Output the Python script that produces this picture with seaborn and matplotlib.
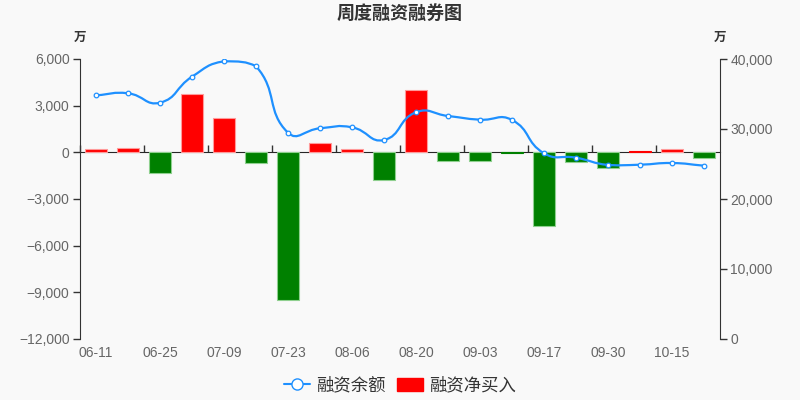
import numpy as np
import pandas as pd
import seaborn as sns
import matplotlib.pyplot as plt
from matplotlib.path import Path
from matplotlib.patches import PathPatch, Patch
from matplotlib.lines import Line2D
from matplotlib.ticker import FuncFormatter, MultipleLocator, NullFormatter

# weekly data (unit: 万)
dates = ['06-11', '06-18', '06-25', '07-02', '07-09', '07-16', '07-23', '07-30', '08-06', '08-13',
         '08-20', '08-27', '09-03', '09-10', '09-17', '09-24', '09-30', '10-08', '10-15', '10-22']
net_buy = [190, 280, -1320, 3740, 2230, -690, -9480, 600, 190, -1810,
           4020, -540, -540, -40, -4740, -650, -1010, 80, 210, -370]
balance = [34810, 35100, 33760, 37470, 39670, 38960, 29470, 30100, 30240, 28430,
           32390, 31860, 31330, 31290, 26530, 25900, 24860, 24900, 25140, 24760]

BG = '#f9f9f9'
BLUE = '#1e90ff'


def smooth_path(xs, ys, sx, sy, smooth=0.5):
    # bezier smoothing like echarts, computed in pixel-like units
    pts = np.column_stack([np.asarray(xs, float) * sx, np.asarray(ys, float) * sy])
    n = len(pts)
    lo, hi = pts.min(axis=0), pts.max(axis=0)
    cps = []
    for i in range(n):
        p = pts[i]
        prev = pts[max(i - 1, 0)]
        nxt = pts[min(i + 1, n - 1)]
        v = (nxt - prev) * smooth
        d0 = np.hypot(*(p - prev))
        d1 = np.hypot(*(p - nxt))
        s = d0 + d1
        if s:
            d0, d1 = d0 / s, d1 / s
        cps.append(np.clip(p - v * d0, lo, hi))
        cps.append(np.clip(p + v * d1, lo, hi))
    verts = [pts[0]]
    codes = [Path.MOVETO]
    for i in range(n - 1):
        verts += [cps[2 * i + 1], cps[2 * i + 2], pts[i + 1]]
        codes += [Path.CURVE4] * 3
    verts = np.array(verts) / [sx, sy]
    return Path(verts, codes)


sns.set_style('white')
plt.rcParams['font.family'] = ['Liberation Sans', 'Noto Sans CJK SC', 'DejaVu Sans']
plt.rcParams['axes.unicode_minus'] = True

df = pd.DataFrame({'date': dates, 'net': net_buy})
df['dir'] = np.where(df['net'] >= 0, 'up', 'down')

fig = plt.figure(figsize=(8, 4), dpi=100, facecolor=BG)
ax = fig.add_axes([0.1, 0.1525, 0.8, 0.70])
ax.set_facecolor(BG)

sns.barplot(data=df, x='date', y='net', hue='dir', order=dates,
            palette={'up': '#ff0000', 'down': '#008000'}, dodge=False,
            width=0.69, legend=False, ax=ax, saturation=1)
for bar in ax.patches:
    if abs(bar.get_height()) < 100:
        bar.set_edgecolor(bar.get_facecolor())
    elif bar.get_height() >= 0:
        bar.set_edgecolor('#ff9a9a')
    else:
        bar.set_edgecolor('#8fd08f')
    bar.set_linewidth(0.8)

ax.set_xlim(-0.5, len(dates) - 0.5)
ax.set_ylim(-12000, 6000)
ax.yaxis.set_major_locator(MultipleLocator(3000))
fmt = FuncFormatter(lambda v, p: f'{int(round(v)):,}'.replace('-', '\u2212'))
ax.yaxis.set_major_formatter(fmt)
ax.set_xticks(range(0, len(dates), 2))
ax.set_xticklabels(dates[::2])
ax.set_xlabel('')
ax.set_ylabel('')
ax.tick_params(axis='x', length=0, pad=5, labelsize=10, labelcolor='#666666')
ax.tick_params(axis='y', length=5, width=1, color='#333333', pad=2.5,
               labelsize=10, labelcolor='#666666', left=True, direction='out')
for s in ['top', 'right', 'bottom']:
    ax.spines[s].set_visible(False)
ax.spines['left'].set_color('#333333')

# category axis line on zero
sec = ax.secondary_xaxis(12000 / 18000)
sec.set_xticks(np.arange(-0.5, len(dates) - 1, 2))
sec.xaxis.set_major_formatter(NullFormatter())
sec.tick_params(axis='x', length=5, width=1, color='#333333', direction='out')
sec.spines['bottom'].set_color('#333333')

# balance on right axis
ax2 = ax.twinx()
ax2.set_ylim(0, 40000)
ax2.yaxis.set_major_locator(MultipleLocator(10000))
ax2.yaxis.set_major_formatter(fmt)
ax2.tick_params(axis='y', length=5, width=1, color='#333333', pad=2.5,
                labelsize=10, labelcolor='#666666', right=True, direction='out')
for s in ['top', 'left', 'bottom']:
    ax2.spines[s].set_visible(False)
ax2.spines['right'].set_color('#333333')

xs = np.arange(len(dates))
path = smooth_path(xs, balance, 32.0, 0.007)
ax2.add_patch(PathPatch(path, facecolor='none', edgecolor=BLUE, lw=1.6, zorder=3))
sns.scatterplot(x=xs, y=balance, ax=ax2, s=11, color='white', edgecolor=BLUE,
                linewidth=0.9, zorder=4)

fig.text(0.5, 1 - 14 / 400, '周度融资融券图', ha='center', va='center',
         fontsize=13, fontweight='bold', color='#333333')
fig.text(0.1, 1 - 38 / 400, '万', ha='center', va='center', fontsize=9,
         fontweight='bold', color='#333333')
fig.text(0.9, 1 - 38 / 400, '万', ha='center', va='center', fontsize=9,
         fontweight='bold', color='#333333')

handles = [Line2D([0], [0], color=BLUE, lw=1.5, marker='o', markersize=8,
                  markerfacecolor='white', markeredgecolor=BLUE),
           Patch(facecolor='#ff0000', edgecolor='#ff0000')]
fig.legend(handles, ['融资余额', '融资净买入'], loc='center',
           bbox_to_anchor=(0.5, 1 - 385 / 400), ncol=2, frameon=False,
           fontsize=12.5, handlelength=1.45, handleheight=0.8,
           handletextpad=0.35, columnspacing=0.7, labelcolor='#333333')

fig.savefig('out.png', dpi=100, facecolor=BG)
